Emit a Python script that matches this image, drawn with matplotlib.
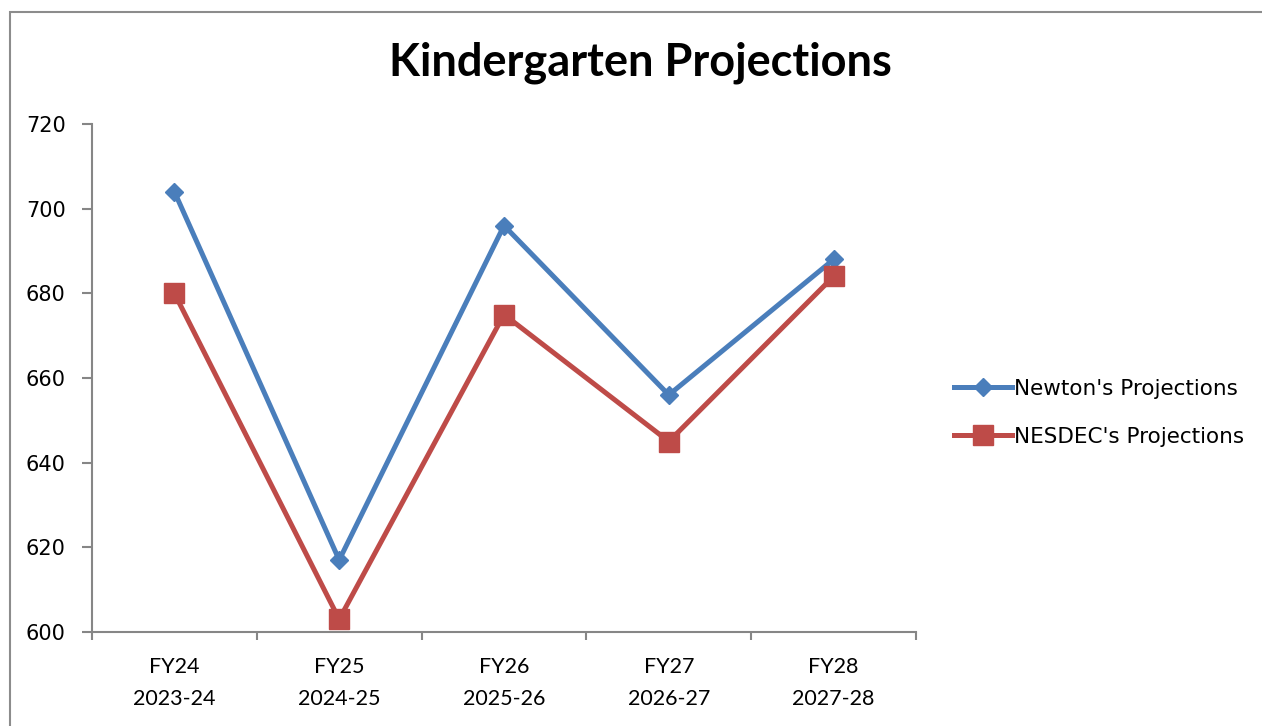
import matplotlib
matplotlib.use("Agg")
import matplotlib.pyplot as plt
from matplotlib.patches import Rectangle
from matplotlib import font_manager

categories = ["FY24\n2023-24", "FY25\n2024-25", "FY26\n2025-26", "FY27\n2026-27", "FY28\n2027-28"]
newton = [704, 617, 696, 656, 688]
nesdec = [680, 603, 675, 645, 684]
series_names = ["Newton's Projections", "NESDEC's Projections"]
title = "Kindergarten Projections"

plt.rcParams['font.family'] = ['DejaVu Sans']

names = {f.name for f in font_manager.fontManager.ttflist}
narrow = ['Liberation Sans Narrow', 'Lato'] if 'Liberation Sans Narrow' in names else ['Lato']

W, H = 1262, 726
fig = plt.figure(figsize=(W / 100, H / 100), dpi=100)
fig.patch.set_facecolor("white")

fig.patches.append(Rectangle((10 / W, -0.1), 1.2, 1 - 12 / H + 0.1, transform=fig.transFigure,
                             fill=False, edgecolor="#8c8c8c", linewidth=1.5))

ax = fig.add_axes([92 / W, 1 - 632 / H, (916 - 92) / W, (632 - 124) / H])
x = list(range(len(categories)))
blue = "#4A7EBB"
red = "#BE4B48"
ax.plot(x, newton, color=blue, lw=3.6, marker="D", ms=9.5, label=series_names[0], solid_joinstyle="miter")
ax.plot(x, nesdec, color=red, lw=3.6, marker="s", ms=14, label=series_names[1], solid_joinstyle="miter")

ax.set_xlim(-0.5, len(categories) - 0.5)
ax.set_ylim(600, 720)
ax.set_yticks(range(600, 721, 20))
ax.set_xticks(x)
ax.set_xticklabels(categories, fontsize=15.5, linespacing=1.75, family=narrow)
ax.set_xticks([i - 0.5 for i in range(len(categories) + 1)], minor=True)
ax.tick_params(axis="x", which="major", length=0, pad=18)
ax.tick_params(axis="x", which="minor", length=6, color="#868686", width=1.5, direction="out")
ax.tick_params(axis="y", length=7, color="#868686", width=1.5, labelsize=15, pad=12)

for s in ["top", "right"]:
    ax.spines[s].set_visible(False)
for s in ["left", "bottom"]:
    ax.spines[s].set_color("#868686")
    ax.spines[s].set_linewidth(1.5)

fig.text(640 / W, 1 - 63 / H, title, ha="center", va="center", fontsize=32.5, fontweight="bold",
         family=narrow)

leg = ax.legend(loc="center left", bbox_to_anchor=(943 / W, 1 - 413 / H), bbox_transform=fig.transFigure,
                frameon=False, fontsize=15.5, handlelength=2.7, handletextpad=0.1, labelspacing=1.3,
                borderpad=0)

fig.savefig("out.png", dpi=100)
